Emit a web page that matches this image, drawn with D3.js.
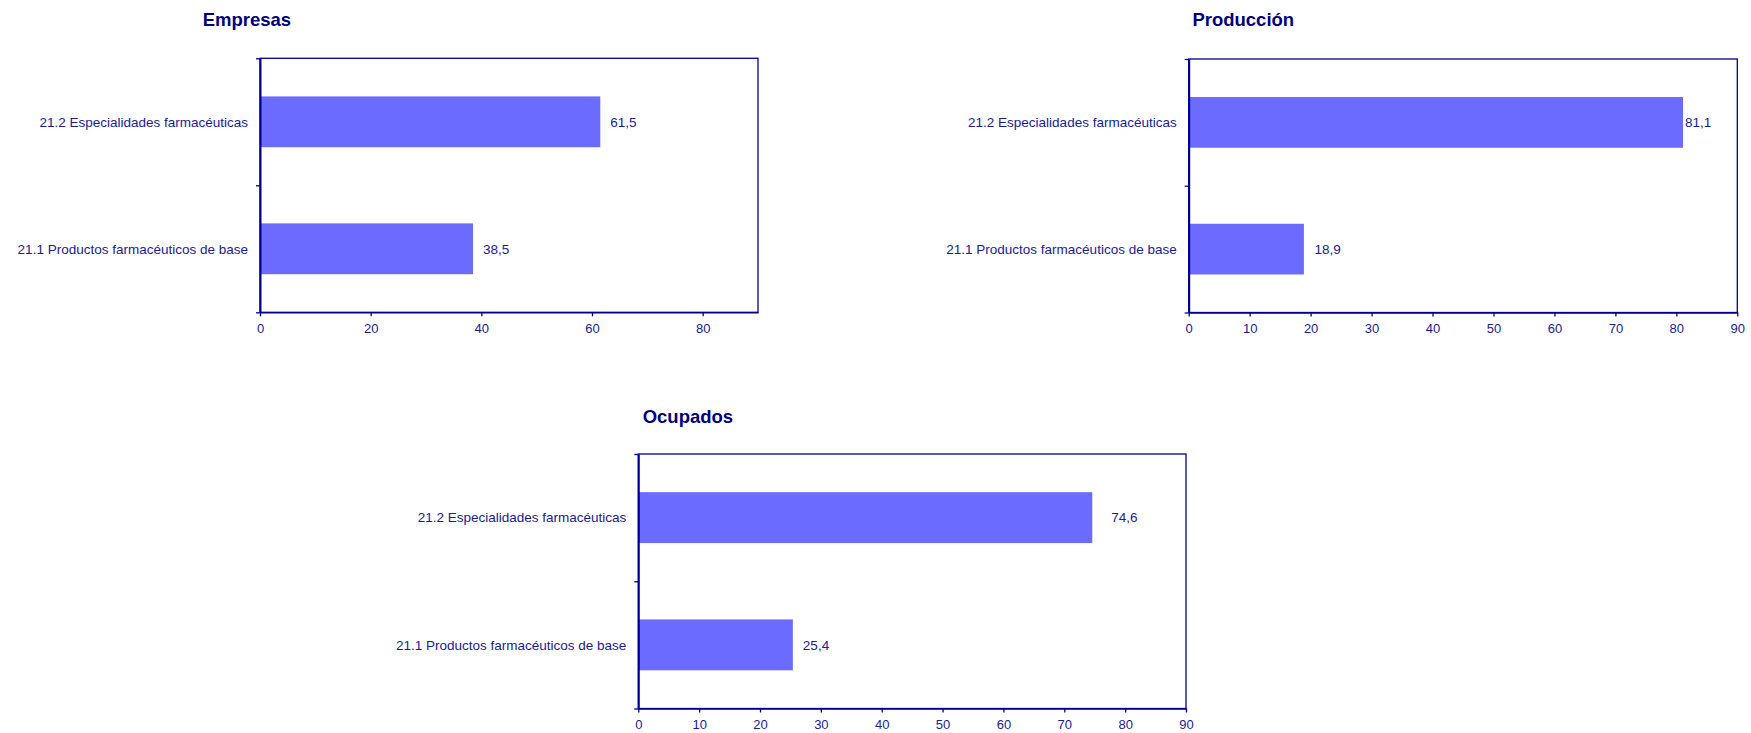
<!DOCTYPE html>
<html>
<head>
<meta charset="utf-8">
<script src="https://cdn.jsdelivr.net/npm/d3@7/dist/d3.min.js"></script>
<style>
  html, body { margin: 0; padding: 0; background: #ffffff; }
  svg { display: block; }
  text { font-family: "Liberation Sans", Arial, sans-serif; }
</style>
</head>
<body>
<svg id="chart" width="1751" height="733"></svg>
<script>
// ---- data ----
const categories = ["21.2 Especialidades farmacéuticas", "21.1 Productos farmacéuticos de base"];
const empresas = [61.5, 38.5];
const produccion = [81.1, 18.9];
const ocupados = [74.6, 25.4];
const empresasTicks = [0, 20, 40, 60, 80];
const tensTicks = [0, 10, 20, 30, 40, 50, 60, 70, 80, 90];
const titles = ["Empresas", "Producción", "Ocupados"];
const xMax = 90;

// ---- layout / style ----
const layout = [
  { values: empresas, ticks: empresasTicks, box: {x0: 260, x1: 758, y0: 58.3, y1: 312.3}, titleX: 202.7, titleY: 26, gap: [10, 10] },
  { values: produccion, ticks: tensTicks, box: {x0: 1188.7, x1: 1737.3, y0: 59, y1: 312.5}, titleX: 1192.4, titleY: 26, gap: [2, 10.6] },
  { values: ocupados, ticks: tensTicks, box: {x0: 638.3, x1: 1186, y0: 454, y1: 708.5}, titleX: 642.7, titleY: 423.3, gap: [19, 10] }
];
const axisColor = "#000090";
const textColor = "#1a1a9c";
const titleColor = "#000080";
const barColor = "#6b6bff";
const fmt = v => d3.format(".1f")(v).replace(".", ",");

const svg = d3.select("#chart");

layout.forEach((c, i) => {
  const g = svg.append("g");
  const b = c.box;
  const x = d3.scaleLinear().domain([0, xMax]).range([b.x0, b.x1]);
  const y = d3.scaleBand().domain(categories).range([b.y0, b.y1]).paddingInner(0.6).paddingOuter(0.3);
  const yEdges = d3.scaleLinear().domain([0, categories.length]).range([b.y0, b.y1]);

  // title
  g.append("text")
    .attr("x", c.titleX).attr("y", c.titleY)
    .attr("fill", titleColor)
    .style("font-size", "18.5px").style("font-weight", "bold")
    .text(titles[i]);

  // bars
  g.selectAll("rect.bar").data(c.values).join("rect")
    .attr("class", "bar")
    .attr("x", x(0))
    .attr("y", (d, k) => y(categories[k]))
    .attr("width", d => x(d) - x(0))
    .attr("height", y.bandwidth())
    .attr("fill", barColor);

  // value labels
  g.selectAll("text.val").data(c.values).join("text")
    .attr("class", "val")
    .attr("x", (d, k) => x(d) + c.gap[k])
    .attr("y", (d, k) => y(categories[k]) + y.bandwidth() / 2)
    .attr("dy", "0.35em")
    .attr("fill", textColor)
    .style("font-size", "13.5px")
    .text(d => fmt(d));

  // frame (top and right)
  g.append("rect")
    .attr("x", b.x0).attr("y", b.y0)
    .attr("width", b.x1 - b.x0).attr("height", b.y1 - b.y0)
    .attr("fill", "none").attr("stroke", axisColor).attr("stroke-width", 1.3);

  // x axis
  const xa = g.append("g").attr("transform", `translate(0,${b.y1})`)
    .call(d3.axisBottom(x).tickValues(c.ticks).tickSize(4).tickSizeOuter(0).tickPadding(7).tickFormat(d3.format("d")));
  xa.select(".domain").attr("stroke", axisColor).attr("stroke-width", 1.5);
  xa.selectAll(".tick line").attr("stroke", axisColor).attr("stroke-width", 1.3);
  xa.selectAll(".tick text").attr("fill", textColor).style("font-size", "13px")
    .style("font-family", '"Liberation Sans", Arial, sans-serif');

  // y axis: tick marks at category boundaries
  const ya = g.append("g").attr("transform", `translate(${b.x0},0)`)
    .call(d3.axisLeft(yEdges).tickValues(d3.range(categories.length + 1)).tickSize(4).tickSizeOuter(0).tickFormat(""));
  ya.select(".domain").attr("stroke", axisColor).attr("stroke-width", 2);
  ya.selectAll(".tick line").attr("stroke", axisColor).attr("stroke-width", 1.3);

  // category labels
  g.selectAll("text.cat").data(categories).join("text")
    .attr("class", "cat")
    .attr("x", b.x0 - 12)
    .attr("y", d => y(d) + y.bandwidth() / 2)
    .attr("dy", "0.35em")
    .attr("text-anchor", "end")
    .attr("fill", textColor)
    .style("font-size", "13.5px")
    .text(d => d);
});
</script>
</body>
</html>
